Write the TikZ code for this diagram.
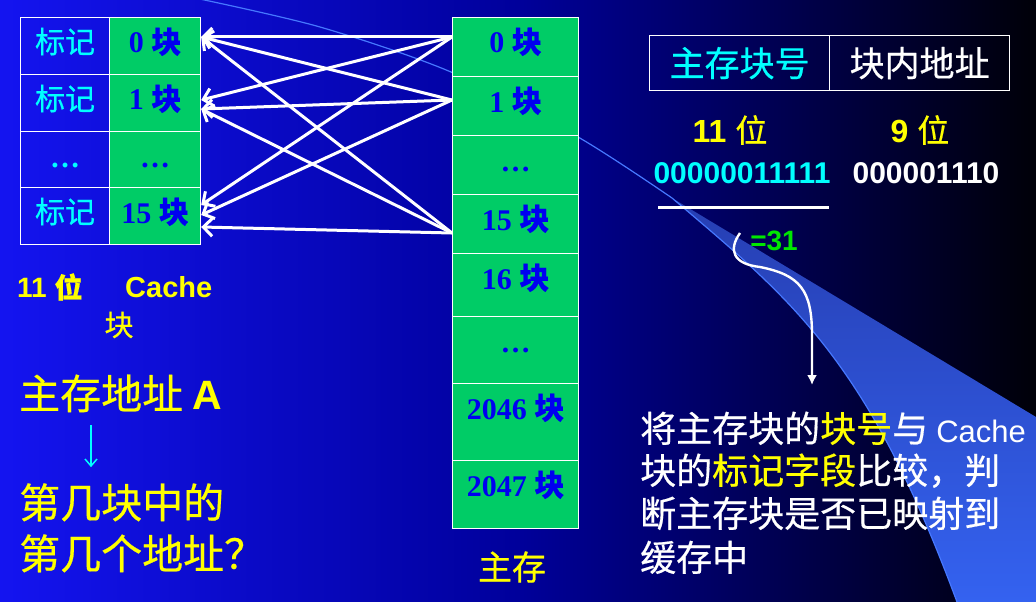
\documentclass[tikz,border=0pt]{standalone}
\usepackage{fontspec}
\setmainfont{Liberation Sans}
\newfontfamily\cjk[FakeBold=0.5]{Noto Sans CJK SC}
\newfontfamily\tms{Liberation Serif}
\usetikzlibrary{arrows.meta, positioning, calc}
\definecolor{bgLeft}{RGB}{20, 20, 240}
\definecolor{bgMid}{RGB}{0, 0, 155}
\definecolor{bgRight}{RGB}{0, 0, 8}
\definecolor{cellGreen}{RGB}{0, 204, 102}
\definecolor{blockBlue}{RGB}{0, 0, 240}
\definecolor{tagCyan}{RGB}{0, 255, 255}
\definecolor{noteYellow}{RGB}{255, 255, 0}
\definecolor{sumGreen}{RGB}{0, 230, 0}
\definecolor{swooshLine}{RGB}{70, 120, 255}
\definecolor{wedgeDark}{RGB}{38, 62, 178}
\definecolor{wedgeLight}{RGB}{52, 98, 240}
\newcommand{\zh}[1]{{\cjk #1}}

\begin{document}
\begin{tikzpicture}[x=1pt,y=-1pt,
  every node/.style={inner sep=0pt},
  cell/.style={draw=white, line width=1.2pt, anchor=north west},
  blocktxt/.style={font=\tms\bfseries\fontsize{30}{36}\selectfont, text=blockBlue, anchor=base},
  tagtxt/.style={font=\cjk\fontsize{30}{36}\selectfont, text=tagCyan, anchor=base},
  mapline/.style={white, line width=3pt, -{Straight Barb[length=9pt,width=18pt]}},
  notetxt/.style={font=\cjk\fontsize{36}{43}\selectfont, text=white, anchor=base west}]
\useasboundingbox (0,0) rectangle (1036,602);
% Background
\shade[left color=bgLeft, right color=bgRight, middle color=bgMid] (0,0) rectangle (1036,602);
\draw[swooshLine, line width=1.2pt] plot[smooth] coordinates {(195,-2) (320,27) (451,72) (578,137) (672,198)};
\shade[top color=wedgeDark, bottom color=wedgeLight] (672,198) -- (1036,417) -- (1036,602) -- (957,602)
  .. controls (867,359) and (792,300) .. (672,198) -- cycle;
\draw[swooshLine, line width=1.2pt] (672,198) .. controls (792,300) and (867,359) .. (957,602);

% Cache
\foreach \row/\top/\h/\tg/\bk in {0/17/57/{标记}/{0 \zh{块}}, 1/74/57/{标记}/{1 \zh{块}},
    d/131/56/{{\tms\bfseries …}}/{…}, 15/187/57/{标记}/{15 \zh{块}}} {
  \node[cell, minimum width=89pt, minimum height=\h pt] (tag\row) at (20,\top) {};
  \node[cell, fill=cellGreen, minimum width=91pt, minimum height=\h pt] (cb\row) at (109,\top) {};
  \node[tagtxt] (tag\row txt) at ([yshift=-36pt]tag\row.north) {\tg};
  \node[blocktxt] (cb\row txt) at ([yshift=-36pt]cb\row.north) {\bk};
}

% Main memory
\foreach \name/\top/\h/\txt in {mb0/17/59/{0 \zh{块}}, mb1/76/59/{1 \zh{块}}, mbd/135/59/{…},
    mb15/194/59/{15 \zh{块}}, mb16/253/63/{16 \zh{块}}, mbdd/316/67/{…},
    mb2046/383/77/{2046 \zh{块}}, mb2047/460/68/{2047 \zh{块}}} {
  \node[cell, fill=cellGreen, minimum width=126pt, minimum height=\h pt] (\name) at (452,\top) {};
  \node[blocktxt] (\name txt) at ([yshift=-36pt]\name.north) {\txt};
}
\node[font=\cjk\fontsize{34}{40}\selectfont, text=noteYellow] (memLabel) at (512,567) {主存};

% any block -> any line
\foreach \src/\sy/\dst/\dy in {mb0/20/cb0/20, mb0/20/cb1/26, mb0/20/cb15/18,
    mb1/24/cb0/20, mb1/24/cb1/35, mb1/24/cb15/28,
    mb15/39/cb0/20, mb15/39/cb1/35, mb15/39/cb15/40}
  \draw[mapline] ([yshift=-\sy pt]\src.north west) -- ([yshift=-\dy pt]\dst.north east);

% Address fields
\node[cell, minimum width=180pt, minimum height=55pt, font=\cjk\fontsize{35}{40}\selectfont, text=tagCyan] (fieldTag) at (649,35) {主存块号};
\node[cell, minimum width=180pt, minimum height=55pt, font=\cjk\fontsize{35}{40}\selectfont, text=white] (fieldWord) at (829,35) {块内地址};
\node[font=\fontsize{32}{38}\selectfont, text=noteYellow] (tagBits) at (730,130) {\textbf{11} \zh{位}};
\node[font=\fontsize{32}{38}\selectfont, text=noteYellow] (wordBits) at (920,130) {\textbf{9} \zh{位}};
\node[font=\bfseries\fontsize{30}{34}\selectfont, text=tagCyan] (tagBin) at (742,173) {00000011111};
\node[font=\bfseries\fontsize{30}{34}\selectfont, text=white] (wordBin) at (926,173) {000001110};
\draw[white, line width=3pt] (658,207) -- (829,207);
\node[font=\bfseries\fontsize{28}{32}\selectfont, text=sumGreen] (sumVal) at (774,241) {=31};
\coordinate (bendStart) at (740,233);
\coordinate (bendEnd) at (812,385);
\draw[white, line width=2.4pt, -{Latex[length=10pt,width=10pt]}] (bendStart)
  .. controls (728,250) and (733,264) .. (760,267)
  .. controls (800,275) and (812,290) .. (812,335) -- (bendEnd);

% Note
\node[notetxt] (noteL1) at (640,442) {将主存块的\textcolor{noteYellow}{块号}与 {\rmfamily\fontsize{31}{36}\selectfont Cache}};
\node[notetxt] (noteL2) at (640,484) {块的\textcolor{noteYellow}{标记字段}比较，判};
\node[notetxt] (noteL3) at (640,527) {断主存块是否已映射到};
\node[notetxt] (noteL4) at (640,571) {缓存中};

% Left labels
\node[anchor=west, font=\bfseries\fontsize{28}{34}\selectfont, text=noteYellow] (cacheBits) at (17,287) {11 \zh{位}};
\node[anchor=west, font=\bfseries\fontsize{29}{34}\selectfont, text=noteYellow] (cacheWord) at (125,287) {Cache};
\node[font=\cjk\fontsize{29}{34}\selectfont, text=noteYellow] (cacheBlk) at (119,325) {块};
\node[anchor=base west, font=\cjk\fontsize{41}{50}\selectfont, text=noteYellow] (addrA) at (19,409) {主存地址 {\rmfamily\bfseries A}};
\node[anchor=base west, font=\cjk\fontsize{41}{50}\selectfont, text=noteYellow] (addrQ1) at (19,518) {第几块中的};
\node[anchor=base west, font=\cjk\fontsize{41}{50}\selectfont, text=noteYellow] (addrQ2) at (19,569) {第几个地址？};
\draw[tagCyan, line width=1.5pt, -{Straight Barb[length=7pt,width=12pt]}]
  ([xshift=72pt,yshift=-13pt]addrA.south west) -- ([xshift=72pt,yshift=16pt]addrQ1.north west);
\end{tikzpicture}
\end{document}
